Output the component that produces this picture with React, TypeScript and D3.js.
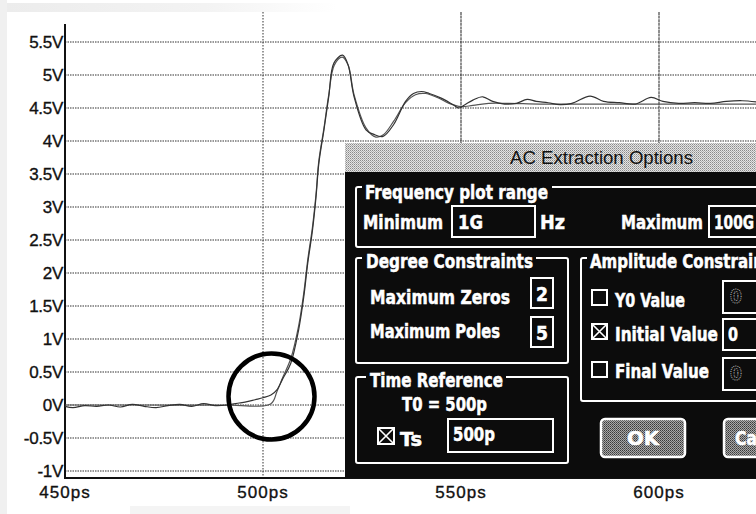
import React from "react";
import * as d3 from "d3";

// ---- data ----
const measuredT = [450, 452, 455, 458, 461, 464, 467, 470, 473, 476, 479, 482, 485, 488, 491, 494, 496, 498, 500, 502, 503.5, 505, 507, 509, 510.3, 511.3, 512.5, 513.4, 514.1, 515.4, 516.6, 517.9, 520.1, 521.5, 523, 526, 528, 530.3, 533, 536, 538, 540, 542, 545, 548, 549.5, 551, 553, 555.5, 558, 561, 564, 566.7, 569, 572, 575, 578, 582.6, 586, 590, 594, 598, 601, 605, 609, 613, 617, 621, 625];
const measuredV = [-0.02, -0.04, -0.01, -0.02, 0.0, -0.03, 0.01, -0.02, -0.04, -0.01, 0.01, -0.02, 0.02, -0.01, 0.0, 0.03, 0.05, 0.08, 0.11, 0.15, 0.23, 0.4, 0.63, 1.14, 1.64, 2.15, 2.65, 3.16, 3.66, 4.17, 4.67, 5.18, 5.3, 5.15, 4.67, 4.17, 4.1, 4.07, 4.25, 4.6, 4.72, 4.75, 4.72, 4.65, 4.55, 4.5, 4.55, 4.62, 4.67, 4.6, 4.56, 4.57, 4.63, 4.6, 4.58, 4.55, 4.57, 4.68, 4.6, 4.58, 4.56, 4.66, 4.6, 4.57, 4.58, 4.57, 4.6, 4.61, 4.59];
const modelT = [450, 470, 490, 502, 503.5, 505, 507, 509, 510.3, 511.3, 512.5, 513.4, 514.1, 515.4, 516.6, 518, 520, 521.5, 523, 526, 528.5, 530.5, 533, 536, 538.5, 541, 544, 547, 550, 553, 557, 562, 570, 580, 600, 625];
const modelV = [0, 0, 0, 0.02, 0.2, 0.42, 0.7, 1.2, 1.7, 2.2, 2.7, 3.2, 3.7, 4.2, 4.7, 5.15, 5.27, 5.15, 4.7, 4.2, 4.06, 4.1, 4.3, 4.58, 4.7, 4.72, 4.66, 4.57, 4.52, 4.54, 4.57, 4.57, 4.56, 4.56, 4.56, 4.56];
const yTicks = [-1, -0.5, 0, 0.5, 1, 1.5, 2, 2.5, 3, 3.5, 4, 4.5, 5, 5.5];
const yTickLabels = ["-1V", "-0.5V", "0V", "0.5V", "1V", "1.5V", "2V", "2.5V", "3V", "3.5V", "4V", "4.5V", "5V", "5.5V"];
const xTicks = [450, 500, 550, 600];
const xTickLabels = ["450ps", "500ps", "550ps", "600ps"];

const W = 756;
const H = 514;

const x = d3.scaleLinear().domain([450, 600]).range([65, 659]);
const y = d3.scaleLinear().domain([-1, 5.5]).range([471, 42]);

const line = d3
  .line<[number, number]>()
  .x((d) => x(d[0]))
  .y((d) => y(d[1]))
  .curve(d3.curveCatmullRom.alpha(0.5));

const measured: [number, number][] = measuredT.map((t, i) => [t, measuredV[i]]);
const model: [number, number][] = modelT.map((t, i) => [t, modelV[i]]);

const axisFont = "'Liberation Sans', Arial, sans-serif";
const dlgFont = "'Liberation Sans Narrow', 'DejaVu Sans Condensed', 'Arial Narrow', sans-serif";

function DText(props: { x: number; y: number; w: number; size?: number; fill?: string; children: React.ReactNode; anchor?: string }) {
  return (
    <text
      x={props.x}
      y={props.y}
      fontFamily={dlgFont}
      fontWeight="bold"
      fontSize={props.size ?? 20}
      fill={props.fill ?? "#fff"}
      stroke={props.fill ?? "#fff"}
      strokeWidth={0.5}
      textLength={props.w}
      lengthAdjust="spacingAndGlyphs"
      textAnchor={props.anchor ?? "start"}
    >
      {props.children}
    </text>
  );
}

export default function App() {
  const axisBottom = y(-1.105);
  return (
    <svg
      width={W}
      height={H}
      style={{ position: "absolute", left: 0, top: 0, background: "#fff" }}
    >
      <defs>
        <pattern id="ditherLight" width="2" height="2" patternUnits="userSpaceOnUse">
          <rect width="2" height="2" fill="#e4e4e4" />
          <rect width="1" height="1" fill="#8a8a8a" />
          <rect x="1" y="1" width="1" height="1" fill="#b0b0b0" />
        </pattern>
        <pattern id="ditherBtn" width="2" height="2" patternUnits="userSpaceOnUse">
          <rect width="2" height="2" fill="#a8a8a8" />
          <rect width="1" height="1" fill="#3a3a3a" />
          <rect x="1" y="1" width="1" height="1" fill="#5a5a5a" />
        </pattern>
        <linearGradient id="scanTop" x1="0" x2="1" y1="0" y2="0">
          <stop offset="0" stopColor="#ececec" />
          <stop offset="0.6" stopColor="#f3f3f3" />
          <stop offset="1" stopColor="#ffffff" />
        </linearGradient>
      </defs>

      {/* scan artefacts */}
      <rect x={0} y={0} width={W} height={H} fill="#fff" />
      <rect x={0} y={0} width={7} height={H} fill="#f0f0f0" />
      <rect x={7} y={3} width={330} height={9} fill="url(#scanTop)" />
      <rect x={130} y={506} width={220} height={8} fill="#f4f4f4" />

      {/* horizontal grid */}
      {yTicks.map((v) => (
        <line
          key={"h" + v}
          x1={x(450)}
          x2={W}
          y1={y(v)}
          y2={y(v)}
          stroke="#333"
          strokeWidth={1.1}
          strokeDasharray="1.5,1"
        />
      ))}
      {/* vertical grid */}
      {xTicks.slice(1).map((t, i) => (
        <line
          key={"v" + t}
          x1={x(t)}
          x2={x(t)}
          y1={12}
          y2={axisBottom}
          stroke={i === 0 ? "#444" : "#333"}
          strokeWidth={1.1}
          strokeDasharray={i === 0 ? "1.5,1.5" : "3,0.6"}
        />
      ))}

      {/* axes */}
      <line x1={x(450)} x2={x(450)} y1={24} y2={axisBottom + 1} stroke="#111" strokeWidth={2} />
      <line x1={x(450) - 1} x2={W} y1={axisBottom} y2={axisBottom} stroke="#111" strokeWidth={2} />

      {/* y tick labels */}
      {yTicks.map((v, i) => (
        <text
          key={"yl" + v}
          x={63}
          y={y(v) + 6}
          textAnchor="end"
          fontFamily={axisFont}
          fontSize={17}
          fill="#111"
          stroke="#111"
          strokeWidth={0.35}
          style={{ letterSpacing: "-0.3px" }}
        >
          {yTickLabels[i]}
        </text>
      ))}
      {/* x tick labels */}
      {xTicks.map((t, i) => (
        <text
          key={"xl" + t}
          x={x(t)}
          y={498}
          textAnchor="middle"
          fontFamily={axisFont}
          fontSize={17}
          fill="#111"
          stroke="#111"
          strokeWidth={0.35}
          style={{ letterSpacing: "1px" }}
        >
          {xTickLabels[i]}
        </text>
      ))}

      {/* traces */}
      <path d={line(model) ?? ""} fill="none" stroke="#555" strokeWidth={1.2} />
      <path d={line(measured) ?? ""} fill="none" stroke="#333" strokeWidth={1.2} />

      {/* highlight circle */}
      <circle cx={271.5} cy={396.5} r={43} fill="none" stroke="#000" strokeWidth={4.5} />

      {/* dialog */}
      <g>
        <rect x={345} y={143} width={430} height={29} fill="url(#ditherLight)" />
        <text
          x={510}
          y={164}
          fontFamily={axisFont}
          fontSize={18}
          fill="#111"
          textLength={183}
          lengthAdjust="spacingAndGlyphs"
        >
          AC Extraction Options
        </text>
        <rect x={345} y={172} width={430} height={306} fill="#0c0c0c" />

        {/* Frequency plot range */}
        <rect x={356} y={187} width={430} height={60} rx={2} fill="none" stroke="#fff" strokeWidth={2} />
        <rect x={362} y={180} width={190} height={18} fill="#0c0c0c" />
        <DText x={365} y={199} w={183}>Frequency plot range</DText>
        <DText x={363} y={229} w={80}>Minimum</DText>
        <rect x={452} y={206} width={83} height={31} fill="none" stroke="#fff" strokeWidth={2} />
        <DText x={458} y={229} w={25}>1G</DText>
        <DText x={540} y={229} w={25}>Hz</DText>
        <DText x={621} y={229} w={82}>Maximum</DText>
        <rect x={709} y={206} width={80} height={31} fill="none" stroke="#fff" strokeWidth={2} />
        <DText x={714} y={229} w={40}>100G</DText>

        {/* Degree Constraints */}
        <rect x={356} y={258} width={212} height={105} rx={2} fill="none" stroke="#fff" strokeWidth={2} />
        <rect x={362} y={250} width={174} height={18} fill="#0c0c0c" />
        <DText x={366} y={268} w={167}>Degree Constraints</DText>
        <DText x={370} y={304} w={140}>Maximum Zeros</DText>
        <rect x={531} y={278} width={22} height={30} fill="none" stroke="#fff" strokeWidth={2} />
        <DText x={536} y={301} w={12}>2</DText>
        <DText x={370} y={338} w={130}>Maximum Poles</DText>
        <rect x={531} y={317} width={22} height={30} fill="none" stroke="#fff" strokeWidth={2} />
        <DText x={536} y={340} w={12}>5</DText>

        {/* Amplitude Constraints */}
        <rect x={581} y={258} width={200} height={143} rx={2} fill="none" stroke="#fff" strokeWidth={2} />
        <rect x={587} y={250} width={180} height={18} fill="#0c0c0c" />
        <DText x={590} y={268} w={190}>Amplitude Constraints</DText>

        <rect x={592} y={290} width={15} height={15} fill="none" stroke="#fff" strokeWidth={2} />
        <DText x={615} y={307} w={70}>Y0 Value</DText>
        <rect x={723} y={281} width={60} height={32} fill="none" stroke="#fff" strokeWidth={2} />
        <text x={730} y={303} fontFamily={dlgFont} fontWeight="bold" fontSize={19} fill="none" stroke="#aaa" strokeWidth={1} strokeDasharray="1,1">0</text>

        <rect x={592} y={324} width={15} height={15} fill="none" stroke="#fff" strokeWidth={2} />
        <path d="M593,325 L606,338 M606,325 L593,338" stroke="#fff" strokeWidth={1.6} />
        <DText x={615} y={341} w={103}>Initial Value</DText>
        <rect x={723} y={319} width={60} height={31} fill="none" stroke="#fff" strokeWidth={2} />
        <DText x={728} y={341} w={10}>0</DText>

        <rect x={592} y={362} width={15} height={15} fill="none" stroke="#fff" strokeWidth={2} />
        <DText x={615} y={378} w={94}>Final Value</DText>
        <rect x={723} y={358} width={60} height={32} fill="none" stroke="#fff" strokeWidth={2} />
        <text x={730} y={380} fontFamily={dlgFont} fontWeight="bold" fontSize={19} fill="none" stroke="#aaa" strokeWidth={1} strokeDasharray="1,1">0</text>

        {/* Time Reference */}
        <rect x={356} y={377} width={212} height={86} rx={2} fill="none" stroke="#fff" strokeWidth={2} />
        <rect x={366} y={370} width={140} height={18} fill="#0c0c0c" />
        <DText x={370} y={387} w={133}>Time Reference</DText>
        <DText x={402} y={411} w={85}>T0 = 500p</DText>
        <rect x={378} y={428} width={16} height={16} fill="none" stroke="#fff" strokeWidth={2} />
        <path d="M379,429 L393,443 M393,429 L379,443" stroke="#fff" strokeWidth={1.6} />
        <DText x={400} y={446} w={22}>Ts</DText>
        <rect x={448} y={419} width={105} height={33} fill="none" stroke="#fff" strokeWidth={2} />
        <DText x={453} y={441} w={42}>500p</DText>

        {/* Buttons */}
        <rect x={601} y={419} width={84} height={38} rx={4} fill="url(#ditherBtn)" stroke="#fff" strokeWidth={2.5} />
        <DText x={643} y={445} w={32} anchor="middle">OK</DText>
        <rect x={724} y={419} width={84} height={38} rx={4} fill="url(#ditherBtn)" stroke="#fff" strokeWidth={2.5} />
        <DText x={735} y={445} w={58}>Cancel</DText>
      </g>
    </svg>
  );
}
